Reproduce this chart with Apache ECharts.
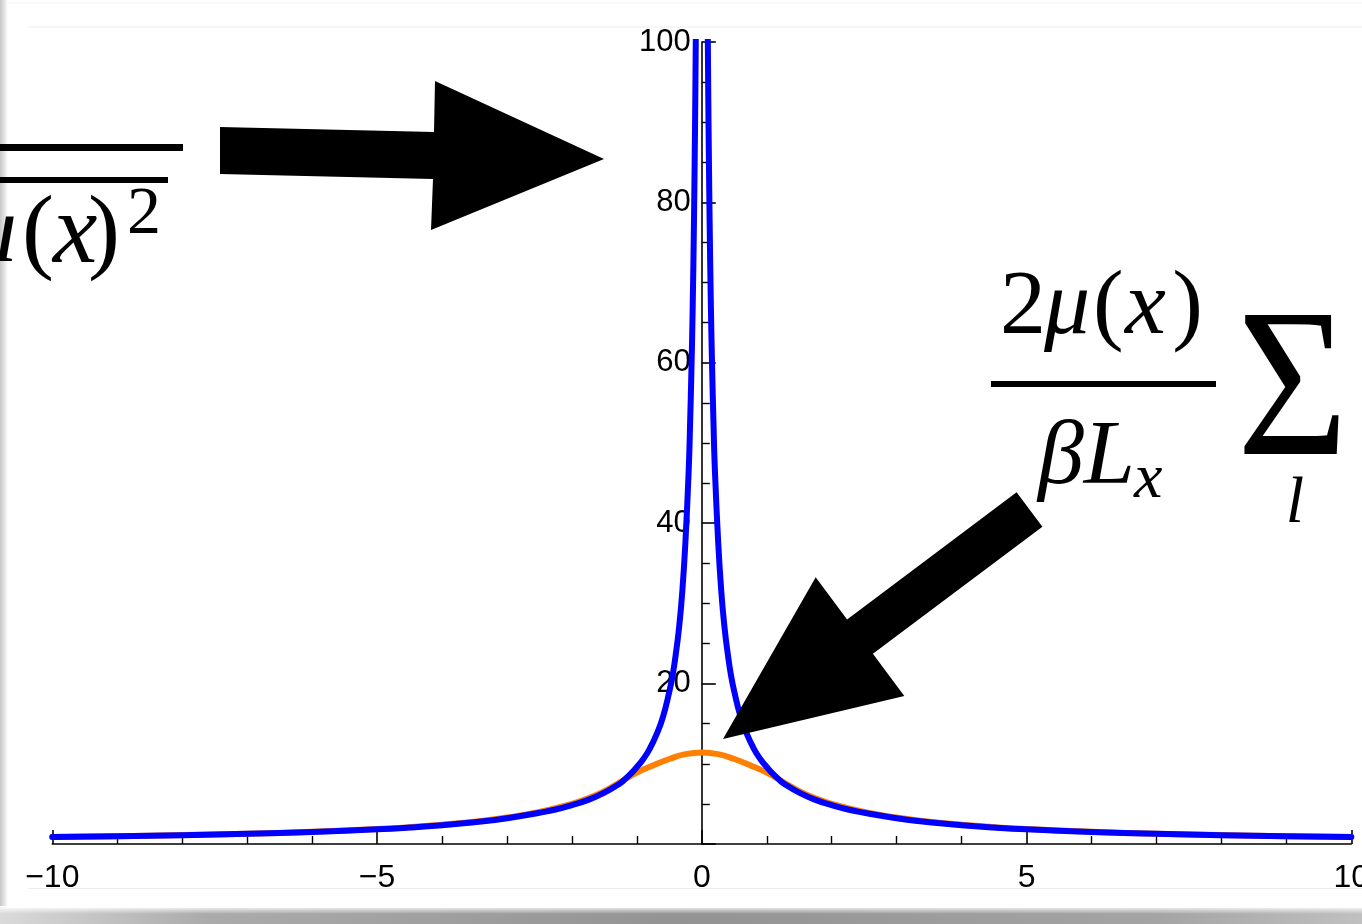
<!DOCTYPE html>
<html><head><meta charset="utf-8">
<script src="https://cdn.jsdelivr.net/npm/echarts@6/dist/echarts.min.js"></script>
<style>html,body{margin:0;padding:0;background:#fff}#c{width:1362px;height:924px}</style>
</head><body><div id="c"></div><script>
// ---- data ----
const xTicks = [-10, -5, 0, 5, 10];
const xTickText = ['\u221210', '\u22125', '0', '5', '10'];
const yTicks = [20, 40, 60, 80, 100];
const yTickText = ['20', '40', '60', '80', '100'];

// blue curve, left branch (x < 0)
const blueLeftX = [-10,-9,-8,-7,-6,-5,-4.5,-4,-3.5,-3,-2.5,-2.25,-2,-1.75,-1.5,-1.25,-1.2,-1.1,-1,-0.9,-0.8,-0.7,-0.6,-0.5,-0.45,-0.4,-0.35,-0.3,-0.25,-0.2,-0.18,-0.16,-0.14,-0.12,-0.11,-0.1,-0.09];
const blueLeftY = [0.87,0.97,1.1,1.27,1.5,1.83,2.06,2.35,2.72,3.2,3.9,4.3,4.85,5.5,6.4,7.6,7.95,8.7,9.6,10.6,11.9,13.6,15.8,19,21,23.7,27,31.5,38,47,52.5,59,67,78,85,93,103];
// blue curve, right branch (x > 0)
const blueRightX = [0.09,0.1,0.11,0.12,0.14,0.16,0.18,0.2,0.25,0.3,0.35,0.4,0.45,0.5,0.6,0.7,0.8,0.9,1,1.1,1.2,1.25,1.5,1.75,2,2.25,2.5,3,3.5,4,4.5,5,6,7,8,9,10];
const blueRightY = [103,93,85,78,67,59,52.5,47,38,31.5,27,23.7,21,19,15.8,13.6,11.9,10.6,9.6,8.7,7.95,7.6,6.4,5.5,4.85,4.3,3.9,3.2,2.72,2.35,2.06,1.83,1.5,1.27,1.1,0.97,0.87];
// orange curve
const orangeX = [-10,-9,-8,-7,-6,-5,-4.5,-4,-3.5,-3,-2.5,-2,-1.75,-1.5,-1.25,-1,-0.75,-0.5,-0.25,0,0.25,0.5,0.75,1,1.25,1.5,1.75,2,2.5,3,3.5,4,4.5,5,6,7,8,9,10];
const orangeY = [0.88,0.98,1.11,1.28,1.52,1.86,2.1,2.4,2.78,3.3,4.0,5.0,5.7,6.6,7.75,8.9,9.8,10.6,11.2,11.4,11.2,10.6,9.8,8.9,7.75,6.6,5.7,5.0,4.0,3.3,2.78,2.4,2.1,1.86,1.52,1.28,1.11,0.98,0.88];

const pairs = (xs, ys) => xs.map((x, i) => [x, ys[i]]);

const SANS = "'Liberation Sans', Arial, sans-serif";
const SERIF = "'Liberation Serif', 'Times New Roman', serif";

const GRID_L = 52.3, GRID_R = 10.7, PLOT_W = 1362 - GRID_L - GRID_R;
// y axis sits at x = 0 of the x range [-10, 10]
const Y_AXIS_OFFSET = -PLOT_W * (0 - (-10)) / 20;

const chart = echarts.init(document.getElementById('c'), null, {renderer: 'canvas'});

const lineSeries = (name, data, color, z) => ({
  name, type: 'line', data, showSymbol: false, symbol: 'none',
  smooth: 0.5, clip: true, z,
  lineStyle: {color, width: 6, cap: 'round', join: 'round'}, animation: false
});

const arrowStyle = {fill: '#000'};
const it = (size) => ({fontFamily: SERIF, fontStyle: 'italic', fontSize: size, fill: '#000', font: 'italic ' + size + 'px ' + SERIF});
const up = (size) => ({fontFamily: SERIF, fontSize: size, fill: '#000', font: size + 'px ' + SERIF});

chart.setOption({
  backgroundColor: '#fff',
  animation: false,
  grid: {left: GRID_L, right: GRID_R, top: 42, bottom: 80, containLabel: false, outerBoundsMode: 'none'},
  xAxis: {
    type: 'value', min: -10, max: 10, interval: 5,
    axisLine: {onZero: false, lineStyle: {color: '#000', width: 1.6}},
    axisTick: {inside: true, length: 14, lineStyle: {color: '#000', width: 1.6}},
    minorTick: {show: true, splitNumber: 5, length: 8, lineStyle: {color: '#000', width: 1.4}},
    splitLine: {show: false}, minorSplitLine: {show: false},
    axisLabel: {
      color: '#000', fontSize: 32, fontFamily: SANS, margin: 18,
      showMinLabel: true, showMaxLabel: true, hideOverlap: false,
      formatter: v => { const i = xTicks.indexOf(v); return i >= 0 ? xTickText[i] : ''; }
    }
  },
  yAxis: {
    type: 'value', min: 0, max: 100, interval: 20, position: 'left', offset: Y_AXIS_OFFSET,
    axisLine: {show: true, onZero: false, lineStyle: {color: '#000', width: 1.6}},
    axisTick: {show: true, inside: true, length: 14, lineStyle: {color: '#000', width: 1.6}},
    minorTick: {show: true, splitNumber: 4, length: 8, lineStyle: {color: '#000', width: 1.4}},
    splitLine: {show: false}, minorSplitLine: {show: false},
    axisLabel: {
      color: '#000', fontSize: 31, fontFamily: SANS, margin: 11, hideOverlap: false,
      formatter: v => { const i = yTicks.indexOf(v); return i >= 0 ? yTickText[i] : ''; }
    }
  },
  series: [
    lineSeries('orange', pairs(orangeX, orangeY), '#FF8000', 2),
    lineSeries('blueL', pairs(blueLeftX, blueLeftY), '#0000FF', 3),
    lineSeries('blueR', pairs(blueRightX, blueRightY), '#0000FF', 3)
  ],
  graphic: [
    // slide frame / shadow
    {type: 'rect', z: -10, shape: {x: 0, y: 0, width: 8, height: 924},
     style: {fill: new echarts.graphic.LinearGradient(0, 0, 1, 0, [{offset: 0, color: '#c6c6c6'}, {offset: 0.6, color: '#e6e6e6'}, {offset: 1, color: '#ffffff'}])}},
    {type: 'rect', z: -10, shape: {x: 0, y: 908, width: 1362, height: 16},
     style: {fill: new echarts.graphic.LinearGradient(0, 0, 1, 0, [{offset: 0, color: '#dadada'}, {offset: 0.15, color: '#ababab'}, {offset: 0.5, color: '#939393'}, {offset: 0.85, color: '#a4a4a4'}, {offset: 1, color: '#c0c0c0'}])}},
    {type: 'rect', z: -9, shape: {x: 0, y: 906, width: 1362, height: 8},
     style: {fill: new echarts.graphic.LinearGradient(0, 0, 0, 1, [{offset: 0, color: 'rgba(255,255,255,1)'}, {offset: 1, color: 'rgba(255,255,255,0)'}])}},
    {type: 'line', z: -8, shape: {x1: 28, y1: 27, x2: 1362, y2: 27}, style: {stroke: '#ededed', lineWidth: 1}},
    {type: 'line', z: -8, shape: {x1: 28, y1: 888.5, x2: 1362, y2: 888.5}, style: {stroke: '#ededed', lineWidth: 1}},
    {type: 'line', z: -8, shape: {x1: 8, y1: 3, x2: 1362, y2: 3}, style: {stroke: '#f2f2f2', lineWidth: 1}},

    // arrows
    {type: 'polygon', z: 20, shape: {points: [[220,127],[434,132],[435,81],[604,159],[431,230],[433,179],[220,174]]}, style: arrowStyle},
    {type: 'polygon', z: 20, shape: {points: [[1016.6,492.3],[847.1,619.4],[815.7,577.3],[723,739],[904.3,695.9],[872.9,653.8],[1042.4,526.7]]}, style: arrowStyle},

    // left (clipped) formula
    {type: 'rect', z: 20, shape: {x: 0, y: 144, width: 183, height: 7}, style: {fill: '#000'}},
    {type: 'rect', z: 20, shape: {x: 0, y: 177, width: 168, height: 6}, style: {fill: '#000'}},
    {type: 'text', z: 20, style: Object.assign({x: 17, y: 236, text: '\u03bc', textAlign: 'right', verticalAlign: 'middle'}, it(96))},
    {type: 'text', z: 20, style: Object.assign({x: 22, y: 236, text: '(', textAlign: 'left', verticalAlign: 'middle'}, up(96))},
    {type: 'text', z: 20, style: Object.assign({x: 53, y: 236, text: 'x', textAlign: 'left', verticalAlign: 'middle'}, it(100))},
    {type: 'text', z: 20, style: Object.assign({x: 120, y: 236, text: ')', textAlign: 'right', verticalAlign: 'middle'}, up(96))},
    {type: 'text', z: 20, style: Object.assign({x: 127, y: 215, text: '2', textAlign: 'left', verticalAlign: 'middle'}, up(68))},

    // right formula numerator: 2 mu ( x )
    {type: 'text', z: 20, style: Object.assign({x: 1000, y: 309, text: '2', textAlign: 'left', verticalAlign: 'middle'}, up(92))},
    {type: 'text', z: 20, style: Object.assign({x: 1044, y: 309, text: '\u03bc', textAlign: 'left', verticalAlign: 'middle'}, it(92))},
    {type: 'text', z: 20, style: Object.assign({x: 1093, y: 309, text: '(', textAlign: 'left', verticalAlign: 'middle'}, up(92))},
    {type: 'text', z: 20, style: Object.assign({x: 1125, y: 309, text: 'x', textAlign: 'left', verticalAlign: 'middle'}, it(92))},
    {type: 'text', z: 20, style: Object.assign({x: 1203, y: 309, text: ')', textAlign: 'right', verticalAlign: 'middle'}, up(92))},
    {type: 'rect', z: 20, shape: {x: 991, y: 381, width: 225, height: 6}, style: {fill: '#000'}},
    {type: 'text', z: 20, style: Object.assign({x: 1135, y: 459, text: '\u03b2L', textAlign: 'right', verticalAlign: 'middle'}, it(92))},
    {type: 'text', z: 20, style: Object.assign({x: 1134, y: 480, text: 'x', textAlign: 'left', verticalAlign: 'middle'}, it(64))},
    {type: 'text', z: 20, x: 1292.5, y: 398, scaleX: 0.9, style: Object.assign({x: 0, y: 0, text: '\u03a3', textAlign: 'center', verticalAlign: 'middle'}, up(212))},
    {type: 'text', z: 20, style: Object.assign({x: 1295, y: 505, text: 'l', textAlign: 'center', verticalAlign: 'middle'}, it(66))}
  ]
});
</script></body></html>
